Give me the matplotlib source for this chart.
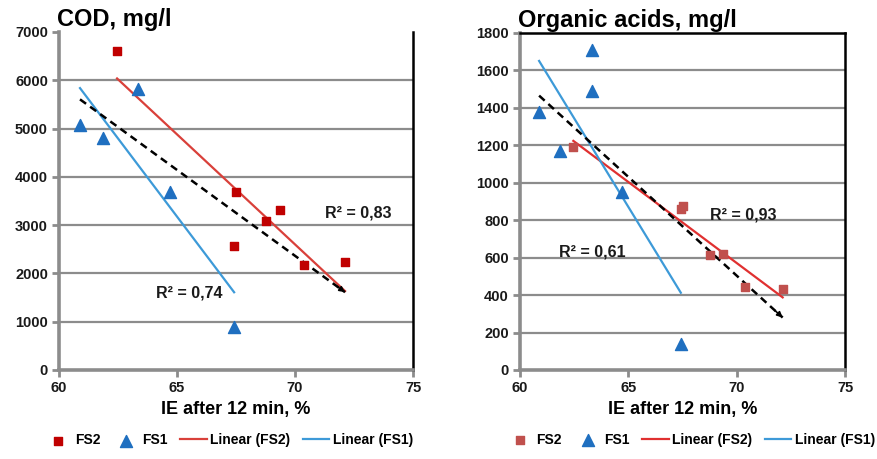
import numpy as np
import matplotlib
matplotlib.use("Agg")
import matplotlib.pyplot as plt

plt.rcParams['font.family'] = ['Liberation Sans', 'DejaVu Sans']

# COD panel
cod_fs2_x = [62.46, 67.42, 67.5, 68.77, 69.36, 70.38, 72.12]
cod_fs2_y = [6600, 2567, 3690, 3085, 3313, 2174, 2236]
cod_fs1_x = [60.89, 61.86, 63.35, 64.7, 67.42]
cod_fs1_y = [5070, 4800, 5820, 3690, 890]

# Organic acids panel
oa_fs2_x = [62.46, 67.42, 67.5, 68.77, 69.36, 70.38, 72.12]
oa_fs2_y = [1190, 860, 875, 615, 620, 445, 430]
oa_fs1_x = [60.88, 61.85, 63.31, 63.31, 64.69, 67.42]
oa_fs1_y = [1380, 1170, 1710, 1490, 950, 140]

x_ticks = [60, 65, 70, 75]
cod_ticks = [0, 1000, 2000, 3000, 4000, 5000, 6000, 7000]
oa_ticks = [0, 200, 400, 600, 800, 1000, 1200, 1400, 1600, 1800]

r2_cod = [("R² = 0,83", 72.7, 3250), ("R² = 0,74", 65.5, 1600)]
r2_oa = [("R² = 0,93", 70.3, 830), ("R² = 0,61", 63.35, 630)]

GRAY = "#8c8c8c"
BLUE_PT = "#1f6fc0"
BLUE_LN = "#3d9ad8"


def trend(ax, x, y, color, lw=1.6, ls="-", label=None):
    x = np.asarray(x)
    k, b = np.polyfit(x, y, 1)
    xs = np.array([x.min(), x.max()])
    ax.plot(xs, k * xs + b, color=color, lw=lw, ls=ls, label=label, zorder=3)
    return xs, k * xs + b


def panel(ax, title, fs2x, fs2y, fs1x, fs1y, yticks, r2, red_pt, red_ln, top_spine, legend_x):
    ax.scatter(fs2x, fs2y, marker="s", s=38, color=red_pt, label="FS2", zorder=4)
    ax.scatter(fs1x, fs1y, marker="^", s=75, color=BLUE_PT, label="FS1", zorder=4)
    trend(ax, fs2x, fs2y, red_ln, label="Linear (FS2)")
    trend(ax, fs1x, fs1y, BLUE_LN, label="Linear (FS1)")
    xs, ys = trend(ax, list(fs2x) + list(fs1x), list(fs2y) + list(fs1y),
                   "black", lw=1.8, ls=(0, (3, 2)))
    # small arrowhead at the end of the common trend line
    dx = 0.35
    ax.annotate("", xy=(xs[1], ys[1]),
                xytext=(xs[1] - dx, ys[1] + (ys[0] - ys[1]) * dx / (xs[1] - xs[0])),
                arrowprops=dict(arrowstyle="-|>", color="black", lw=1.2,
                                mutation_scale=8, shrinkA=0, shrinkB=0), zorder=4)

    for txt, tx, ty in r2:
        ax.text(tx, ty, txt, ha="center", va="center", fontsize=11.5,
                fontweight="bold", color="#1a1a1a", zorder=5)

    ax.set_xlim(x_ticks[0], x_ticks[-1])
    ax.set_ylim(yticks[0], yticks[-1])
    ax.set_xticks(x_ticks)
    ax.set_yticks(yticks)
    ax.tick_params(direction="out", length=5, width=2, color=GRAY,
                   labelsize=10.5, labelcolor="#1a1a1a", pad=3)
    for lab in ax.get_xticklabels() + ax.get_yticklabels():
        lab.set_fontweight("bold")
    for yv in yticks[1:-1]:
        ax.axhline(yv, color=GRAY, lw=1.6, zorder=1)

    ax.spines["left"].set_color(GRAY)
    ax.spines["left"].set_linewidth(2.6)
    ax.spines["bottom"].set_color(GRAY)
    ax.spines["bottom"].set_linewidth(2.6)
    ax.spines["right"].set_color("black")
    ax.spines["right"].set_linewidth(1.8)
    if top_spine:
        ax.spines["top"].set_color("black")
        ax.spines["top"].set_linewidth(1.8)
    else:
        ax.spines["top"].set_visible(False)

    ax.set_xlabel("IE after 12 min, %", fontsize=13, fontweight="bold", labelpad=4)
    ax.set_title(title, loc="left", fontsize=17, fontweight="bold", pad=4, x=-0.005)
    ax.legend(loc="center", bbox_to_anchor=(legend_x, -0.208), ncol=4, frameon=False,
              scatterpoints=1, handlelength=1.9, handletextpad=0.25,
              columnspacing=0.9, borderpad=0.2, prop=dict(weight="bold", size=10))


fig = plt.figure(figsize=(8.78, 4.59), dpi=100)
ax1 = fig.add_axes([0.0672, 0.194, 0.4032, 0.7364])
ax2 = fig.add_axes([0.5923, 0.194, 0.3702, 0.7342])

panel(ax1, "COD, mg/l", cod_fs2_x, cod_fs2_y, cod_fs1_x, cod_fs1_y, cod_ticks, r2_cod,
      "#c00000", "#d9403a", False, 0.48)
panel(ax2, "Organic acids, mg/l", oa_fs2_x, oa_fs2_y, oa_fs1_x, oa_fs1_y, oa_ticks, r2_oa,
      "#c0504d", "#e03030", True, 0.525)

fig.savefig("out.png", dpi=100)
